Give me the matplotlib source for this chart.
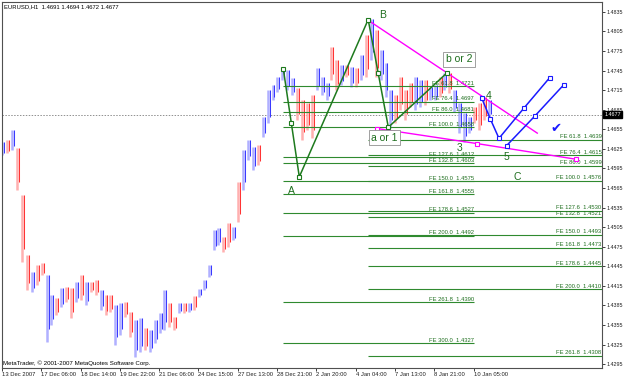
import matplotlib
matplotlib.use("Agg")
import matplotlib.pyplot as plt
from matplotlib import font_manager
import numpy as np

# ---------------- data ----------------
symbol_text = "EURUSD,H1  1.4691 1.4694 1.4672 1.4677"
copyright_text = "MetaTrader, \u00a9 2001-2007 MetaQuotes Software Corp."

# hourly price bars, aggregated (one drawn bar per 4 hours)
bar_highs = [1.4635, 1.4638, 1.4654, 1.4626, 1.4554, 1.4462, 1.4436, 1.4447, 1.4450, 1.4431,
             1.4401, 1.4396, 1.4411, 1.4413, 1.4411, 1.4421, 1.4431, 1.4421, 1.4421, 1.4424,
             1.4408, 1.4401, 1.4401, 1.4385, 1.4388, 1.4390, 1.4375, 1.4362, 1.4365, 1.4350,
             1.4347, 1.4362, 1.4373, 1.4408, 1.4388, 1.4367, 1.4388, 1.4388, 1.4388, 1.4399,
             1.4410, 1.4424, 1.4447, 1.4500, 1.4504, 1.4490, 1.4511, 1.4505, 1.4574, 1.4623,
             1.4638, 1.4628, 1.4631, 1.4674, 1.4715, 1.4723, 1.4735, 1.4749, 1.4746, 1.4733,
             1.4718, 1.4700, 1.4695, 1.4707, 1.4749, 1.4735, 1.4726, 1.4781, 1.4761, 1.4753,
             1.4753, 1.4750, 1.4749, 1.4769, 1.4799, 1.4824, 1.4807, 1.4776, 1.4756, 1.4715,
             1.4707, 1.4735, 1.4715, 1.4726, 1.4735, 1.4730, 1.4730, 1.4720, 1.4723, 1.4735,
             1.4741, 1.4741, 1.4715, 1.4695, 1.4680, 1.4674, 1.4689, 1.4695, 1.4704, 1.4700]
bar_lows = [1.4615, 1.4618, 1.4623, 1.4562, 1.4451, 1.4408, 1.4405, 1.4416, 1.4431, 1.4329,
            1.4355, 1.4370, 1.4382, 1.4390, 1.4365, 1.4390, 1.4393, 1.4385, 1.4405, 1.4401,
            1.4378, 1.4370, 1.4375, 1.4324, 1.4339, 1.4367, 1.4336, 1.4306, 1.4313, 1.4316,
            1.4313, 1.4327, 1.4342, 1.4347, 1.4352, 1.4347, 1.4373, 1.4373, 1.4375, 1.4378,
            1.4398, 1.4408, 1.4428, 1.4470, 1.4477, 1.4467, 1.4474, 1.4485, 1.4513, 1.4562,
            1.4608, 1.4592, 1.4600, 1.4643, 1.4664, 1.4700, 1.4712, 1.4730, 1.4715, 1.4707,
            1.4669, 1.4638, 1.4654, 1.4641, 1.4715, 1.4707, 1.4700, 1.4730, 1.4715, 1.4723,
            1.4735, 1.4720, 1.4720, 1.4730, 1.4735, 1.4761, 1.4735, 1.4730, 1.4704, 1.4657,
            1.4664, 1.4684, 1.4669, 1.4689, 1.4684, 1.4689, 1.4692, 1.4700, 1.4700, 1.4704,
            1.4715, 1.4710, 1.4681, 1.4649, 1.4635, 1.4649, 1.4664, 1.4654, 1.4669, 1.4672]
bar_dirs = ("udu" "dddud" "du" "udud" "dudud" "duddu" "uddu" "udu" "uuudd" "udud"
            "uu" "uuudd" "uduu" "udu" "uuuuuu" "dd" "ddu" "uudd" "udu" "du" "dud" "uuu" "dddd"
            "uudu" "udud" "uu" "uudd" "duudud")
bar_step_hours = 4
bar_first_hour = 1

time_labels = ["13 Dec 2007", "17 Dec 06:00", "18 Dec 14:00", "19 Dec 22:00", "21 Dec 06:00",
               "24 Dec 15:00", "27 Dec 13:00", "28 Dec 21:00", "2 Jan 20:00", "4 Jan 04:00",
               "7 Jan 13:00", "8 Jan 21:00", "10 Jan 05:00"]
time_label_step = 32

price_ticks = [1.4835, 1.4805, 1.4775, 1.4745, 1.4715, 1.4685, 1.4655, 1.4625, 1.4595,
               1.4565, 1.4535, 1.4505, 1.4475, 1.4445, 1.4415, 1.4385, 1.4355, 1.4325, 1.4295]
current_price = 1.4677

# ABC zigzag pivots (hour index, price)
zig_x = [229.1, 242.1, 298.2, 314.6, 362.1]
zig_y = [1.4747, 1.4582, 1.4823, 1.4658, 1.4741]

# magenta trend lines
mag_upper_x = [298.2, 435.9]
mag_upper_y = [1.4822, 1.4649]
mag_lower_x = [305.6, 386.8, 467.4]
mag_lower_y = [1.4656, 1.4633, 1.4609]

# blue projected paths
blue1_x = [390.6, 397.6, 404.7, 425.3, 446.0]
blue1_y = [1.4703, 1.4671, 1.4641, 1.4688, 1.4734]
blue2_x = [411.0, 434.3, 457.4]
blue2_y = [1.4630, 1.4676, 1.4723]

# Fibonacci expansion levels
fe1_levels = ["61.8", "76.4", "86.0", "100.0", "127.6", "132.8", "150.0", "161.8", "178.6",
              "200.0", "261.8", "300.0"]
fe1_prices = [1.4721, 1.4697, 1.4681, 1.4658, 1.4612, 1.4603, 1.4575, 1.4555, 1.4527,
              1.4492, 1.4390, 1.4327]
fe1_start, fe1_end = 229.1, 384.4
fe2_levels = ["61.8", "76.4", "86.0", "100.0", "127.6", "132.8", "150.0", "161.8", "178.6",
              "200.0", "261.8"]
fe2_prices = [1.4639, 1.4615, 1.4599, 1.4576, 1.4530, 1.4521, 1.4493, 1.4473, 1.4445,
              1.4410, 1.4308]
fe2_start = 298.2

# text labels (hour index, price)
wave_labels = ["A", "B", "C", "3", "4", "5"]
wave_x = [235.3, 310.3, 419.4, 372.2, 396.3, 411.0]
wave_y = [1.4561, 1.4830, 1.4581, 1.4626, 1.4706, 1.4613]
box_labels = ["a or 1", "b or 2"]
box_x = [311.5, 372.1]
box_y = [1.4642, 1.4762]
check_x, check_y = 451.0, 1.4656

# ---------------- style ----------------
def pick(fams):
    avail = {f.name for f in font_manager.fontManager.ttflist}
    return [f for f in fams if f in avail] + ["DejaVu Sans"]

small_font = pick(["Liberation Sans Narrow", "Liberation Sans"])
big_font = pick(["Liberation Sans"])

GREEN = "#2f8a2f"
GREEN_TXT = "#1f6f1f"
SMALL = 4.2

W, H = 625, 379
fig = plt.figure(figsize=(W / 100, H / 100), dpi=100, facecolor="white")
ax = fig.add_axes([2 / W, (H - 368) / H, 600 / W, 366 / H])
ax.set_facecolor("white")

XMIN, XMAX = 0, 488.6
ax.set_xlim(XMIN, XMAX)
ax.set_ylim(1.4289, 1.4850)

# bars
n = len(bar_highs)
xs = bar_first_hour + bar_step_hours * np.arange(n)
for i in range(n):
    up = bar_dirs[i] == "u"
    pale = "#b0b0ff" if up else "#ffb0b0"
    strong = "#3a3aff" if up else "#ff3434"
    ax.vlines(xs[i] - 0.7, bar_lows[i], bar_highs[i], color=pale, lw=1.8, zorder=2)
    ax.vlines(xs[i] + 0.9, bar_lows[i] + 0.2 * (bar_highs[i] - bar_lows[i]),
              bar_highs[i], color=strong, lw=0.75, zorder=2)

# current price line
ax.axhline(current_price, color="#909090", lw=0.7, ls=(0, (1.5, 1.5)), zorder=1)

# FE lines
for lvl, p in zip(fe1_levels, fe1_prices):
    ax.hlines(p, fe1_start, fe1_end, color=GREEN, lw=0.8, zorder=3)
    ax.text(fe1_end, p + 0.00008, f"FE {lvl}  {p:.4f}", ha="right", va="bottom",
            fontsize=SMALL, color=GREEN_TXT, family=small_font, zorder=5)
for lvl, p in zip(fe2_levels, fe2_prices):
    ax.hlines(p, fe2_start, XMAX, color=GREEN, lw=0.8, zorder=3)
    ax.text(XMAX - 0.5, p + 0.00008, f"FE {lvl}  {p:.4f}", ha="right", va="bottom",
            fontsize=SMALL, color=GREEN_TXT, family=small_font, zorder=5)

# zigzag
ax.plot(zig_x, zig_y, color="#1e7a1e", lw=1.1, zorder=6)
ax.plot(zig_x, zig_y, ls="none", marker="s", ms=3, mfc="white", mec="#1e7a1e", mew=0.8, zorder=7)
mid_x = [(zig_x[0] + zig_x[1]) / 2, (zig_x[2] + zig_x[3]) / 2]
mid_y = [(zig_y[0] + zig_y[1]) / 2, (zig_y[2] + zig_y[3]) / 2]
ax.plot(mid_x, mid_y, ls="none", marker="s", ms=3, mfc="white", mec="#1e7a1e", mew=0.8, zorder=7)

# magenta lines
ax.plot(mag_upper_x, mag_upper_y, color="#ff00ff", lw=1.0, zorder=6)
ax.plot(mag_lower_x, mag_lower_y, color="#ff00ff", lw=1.0, marker="s", ms=3,
        mfc="white", mec="#ff00ff", mew=0.8, zorder=6)

# blue paths
for bx, by in ((blue1_x, blue1_y), (blue2_x, blue2_y)):
    ax.plot(bx, by, color="#1a1aff", lw=1.1, marker="s", ms=3, mfc="white",
            mec="#1a1aff", mew=0.8, zorder=6)

# wave labels
for t, x, y in zip(wave_labels, wave_x, wave_y):
    ax.text(x, y, t, ha="center", va="center", fontsize=7.5, color="#1e6e1e",
            family=big_font, zorder=8)
for t, x, y in zip(box_labels, box_x, box_y):
    ax.text(x, y, t, ha="center", va="center", fontsize=7.5, color="#1e6e1e",
            family=big_font, zorder=8,
            bbox=dict(boxstyle="square,pad=0.25", fc="white", ec="#909090", lw=0.6))
ax.text(check_x, check_y, "\u2714", ha="center", va="center", fontsize=9.5,
        color="#1a1aff", family=["DejaVu Sans"], zorder=8)

# header and footer text
ax.text(0.004, 0.995, symbol_text, transform=ax.transAxes, ha="left", va="top",
        fontsize=SMALL, color="black", family=small_font)
ax.text(0.002, 0.006, copyright_text, transform=ax.transAxes, ha="left", va="bottom",
        fontsize=4.4, color="black", family=small_font)

# axes / ticks
for s in ax.spines.values():
    s.set_color("#505050")
    s.set_linewidth(0.8)
ax.yaxis.tick_right()
ax.set_yticks(price_ticks)
ax.set_yticklabels([f"{p:.4f}" for p in price_ticks])
ax.set_xticks([time_label_step * i for i in range(len(time_labels))])
ax.set_xticklabels(time_labels)
ax.tick_params(axis="y", direction="out", length=2, width=0.6, pad=1.0, labelsize=3.9,
               colors="#202020")
ax.tick_params(axis="x", direction="out", length=2, width=0.6, pad=1.0, labelsize=SMALL,
               colors="#202020")
for lab in ax.get_xticklabels():
    lab.set_ha("left")
    lab.set_family(small_font)
for lab in ax.get_yticklabels():
    lab.set_family(small_font)

# current price box on axis
ax.annotate(f"{current_price:.4f}", xy=(1.0, current_price), xycoords=("axes fraction", "data"),
            xytext=(1.8, 0), textcoords="offset points", ha="left", va="center",
            fontsize=3.9, color="white", family=small_font,
            bbox=dict(boxstyle="square,pad=0.2", fc="black", ec="black"),
            annotation_clip=False, zorder=10)

fig.savefig("out.png", dpi=100, facecolor="white")
